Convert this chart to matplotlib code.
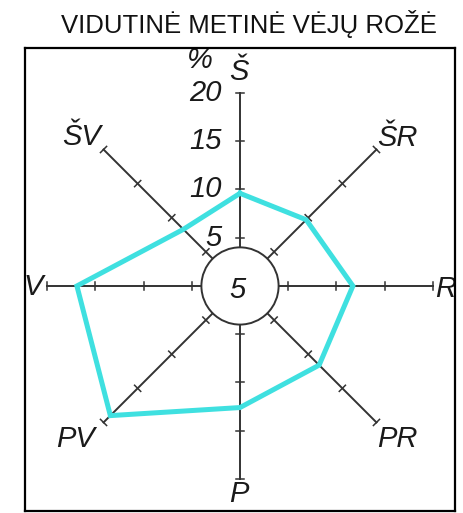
import numpy as np
import matplotlib
matplotlib.use("Agg")
import matplotlib.pyplot as plt
from matplotlib.patches import Circle

# Data
directions = ["Š", "ŠR", "R", "PR", "P", "PV", "V", "ŠV"]
angles_deg = [90, 45, 0, -45, -90, -135, 180, 135]
values = [9.6, 9.7, 11.7, 11.6, 12.6, 19.0, 16.9, 8.3]
calm = 5
scale_ticks = [5, 10, 15, 20]
title = "VIDUTINĖ METINĖ VĖJŲ ROŽĖ"

W, H = 463, 513
fig = plt.figure(figsize=(W / 100, H / 100), dpi=100)
fig.patch.set_facecolor("white")

ax = fig.add_axes([25 / W, 2 / H, 430 / W, 463 / H])
ax.set_xlim(-22.28, 22.28)
ax.set_ylim(-23.32, 24.66)
ax.set_xticks([])
ax.set_yticks([])
for s in ax.spines.values():
    s.set_linewidth(1.6)
    s.set_color("black")
    s.set_zorder(6)

axis_color = "#333333"
r_in = 4.0
r_out = 20.0
tick_half = 0.45
label_font = dict(family=["Liberation Sans", "DejaVu Sans"], style="italic", fontsize=21, color="#1a1a1a")

for d, a in zip(directions, angles_deg):
    t = np.deg2rad(a)
    ux, uy = np.cos(t), np.sin(t)
    px, py = -uy, ux
    ax.plot([r_in * ux, r_out * ux], [r_in * uy, r_out * uy], color=axis_color, lw=1.4, zorder=2)
    for v in scale_ticks:
        cx, cy = v * ux, v * uy
        ax.plot([cx - tick_half * px, cx + tick_half * px],
                [cy - tick_half * py, cy + tick_half * py], color=axis_color, lw=1.1, zorder=2)

# Direction labels (x, y, ha)
label_pos = {
    "Š": (-0.1, 21.35, "center"),
    "ŠR": (16.3, 14.5, "center"),
    "R": (20.2, -1.14, "left"),
    "PR": (16.3, -16.7, "center"),
    "P": (-0.1, -22.4, "center"),
    "PV": (-17.1, -16.7, "center"),
    "V": (-20.4, -0.95, "right"),
    "ŠV": (-16.4, 14.6, "center"),
}
for d in directions:
    x, y, ha = label_pos[d]
    ax.text(x, y, d, ha=ha, va="baseline", zorder=5, clip_on=True, **label_font)

# Scale labels on north axis
for v in scale_ticks:
    ax.text(-1.9, v, str(v), ha="right", va="center", zorder=5, **label_font)
ax.text(-2.8, 22.6, "%", ha="right", va="baseline", zorder=5, **label_font)

# Rose polygon
th = np.deg2rad(angles_deg)
xs = np.array(values) * np.cos(th)
ys = np.array(values) * np.sin(th)
ax.plot(np.append(xs, xs[0]), np.append(ys, ys[0]), color="#3fe0e0", lw=3.6,
        solid_joinstyle="miter", zorder=3)

# Calm circle
ax.add_patch(Circle((0, 0), r_in, facecolor="white", edgecolor=axis_color, lw=1.4, zorder=4))
ax.text(-0.25, -1.24, str(calm), ha="center", va="baseline", zorder=5, **label_font)

fig.text(248.5 / W, 1 - 24 / H, title, ha="center", va="center",
         family=["Liberation Sans", "DejaVu Sans"], fontsize=18.5, color="#111111")

fig.savefig("out.png", dpi=100)
